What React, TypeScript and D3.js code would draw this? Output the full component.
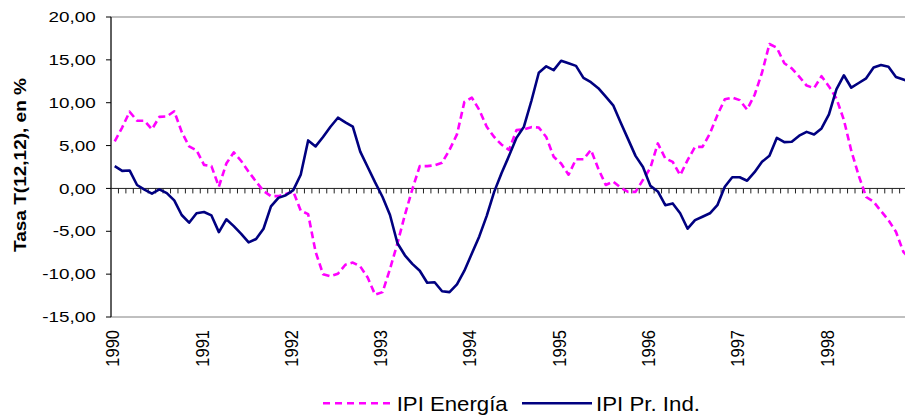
import React, { useEffect, useRef } from 'react';
import * as d3 from 'd3';

// monthly series, Jan 1990 .. Dec 1998
const years = ['1990', '1991', '1992', '1993', '1994', '1995', '1996', '1997', '1998'];
const months = years.flatMap((y) => d3.range(1, 13).map((m) => y + '-' + m));

const energia = [
  5.5, 7.1, 8.95, 7.9, 7.9, 6.9, 8.35, 8.4, 9.0, 6.6, 4.9, 4.45,
  2.75, 2.6, 0.2, 2.9, 4.2, 3.2, 1.95, 0.8, -0.3, -0.9, -0.9, -0.65,
  -0.35, -2.6, -3.0, -7.4, -10.0, -10.25, -9.95, -8.9, -8.65, -9.1, -10.4, -12.4,
  -12.1, -9.4, -6.4, -3.1, -0.1, 2.6, 2.6, 2.7, 3.0, 4.5, 6.3, 10.1,
  10.6, 9.15, 7.2, 6.0, 5.1, 4.5, 6.8, 6.9, 7.15, 7.1, 6.0, 3.7,
  2.9, 1.6, 3.4, 3.4, 4.5, 2.3, 0.4, 0.8, 0.1, -0.4, -0.4, 1.0,
  2.4, 5.25, 3.5, 3.1, 1.55, 3.3, 4.85, 4.85, 6.4, 8.55, 10.4, 10.6,
  10.3, 9.2, 10.9, 13.5, 16.85, 16.4, 14.6, 14.0, 13.05, 12.0, 11.7, 13.1,
  11.9, 10.5, 8.0, 4.4, 1.5, -1.0, -1.55, -2.65, -3.7, -5.05, -7.4, -8.3,
];

const prInd = [
  2.6, 2.05, 2.1, 0.4, -0.15, -0.6, -0.1, -0.55, -1.4, -3.1, -4.0, -2.9,
  -2.75, -3.15, -5.1, -3.6, -4.4, -5.3, -6.3, -5.9, -4.7, -2.1, -1.1, -0.8,
  -0.2, 1.6, 5.6, 4.9, 6.0, 7.2, 8.25, 7.7, 7.2, 4.3, 2.5, 0.7,
  -1.0, -3.1, -6.4, -7.8, -8.8, -9.6, -11.0, -10.95, -12.0, -12.1, -11.2, -9.6,
  -7.6, -5.6, -3.2, -0.4, 1.8, 3.8, 5.9, 7.2, 10.2, 13.5, 14.25, 13.8,
  14.9, 14.6, 14.3, 12.9, 12.4, 11.7, 10.7, 9.7, 7.7, 5.75, 3.8, 2.5,
  0.3, -0.35, -1.95, -1.75, -2.9, -4.7, -3.7, -3.3, -2.9, -1.95, 0.2, 1.3,
  1.3, 0.9, 1.9, 3.1, 3.8, 5.9, 5.4, 5.45, 6.15, 6.6, 6.3, 7.0,
  8.65, 11.55, 13.2, 11.75, 12.3, 12.85, 14.1, 14.4, 14.2, 13.0, 12.7, 12.4,
];

const yTicks = [-15, -10, -5, 0, 5, 10, 15, 20];

const FONT = '"Liberation Sans", Arial, sans-serif';

export default function App() {
  const ref = useRef<SVGSVGElement>(null);

  useEffect(() => {
    const svg = d3.select(ref.current);
    svg.selectAll('*').remove();

    const left = 111, top = 17, bottom = 317;
    const right = left + 108 * 7.44; // plot runs past the picture's right edge

    const x = d3.scaleBand<string>().domain(months).range([left, right]).padding(0);
    const y = d3.scaleLinear().domain([-15, 20]).range([bottom, top]);
    const cx = (i: number) => (x(months[i]) as number) + x.bandwidth() / 2;

    const loc = d3.formatLocale({ decimal: ',', thousands: '.', grouping: [3], currency: ['', ''], minus: '-' });
    const fmt = loc.format('.2f');

    // plot frame
    svg.append('rect')
      .attr('x', left).attr('y', top)
      .attr('width', right - left).attr('height', bottom - top)
      .attr('fill', 'none').attr('stroke', '#808080').attr('stroke-width', 1);

    // y axis
    svg.append('line')
      .attr('x1', left).attr('x2', left).attr('y1', top).attr('y2', bottom)
      .attr('stroke', '#000');
    svg.selectAll('.ytick').data(yTicks).enter().append('line')
      .attr('x1', left - 5).attr('x2', left)
      .attr('y1', (d) => y(d)).attr('y2', (d) => y(d))
      .attr('stroke', '#000');
    svg.selectAll('.ylab').data(yTicks).enter().append('text')
      .attr('transform', (d) => 'translate(95.7,' + (y(d) + 5.2) + ') scale(1.3,1)')
      .attr('text-anchor', 'end')
      .style('font-family', FONT).style('font-size', '14.5px').attr('fill', '#000')
      .text((d) => fmt(d));

    svg.append('text')
      .attr('transform', 'translate(26,165) rotate(-90)')
      .attr('text-anchor', 'middle')
      .attr('textLength', 174).attr('lengthAdjust', 'spacingAndGlyphs')
      .style('font-family', FONT).style('font-size', '16.5px').style('font-weight', 'bold')
      .text('Tasa T(12,12), en %');

    // category axis at zero
    const y0 = y(0);
    svg.append('line')
      .attr('x1', left).attr('x2', right).attr('y1', y0).attr('y2', y0)
      .attr('stroke', '#222');
    svg.selectAll('.xtick').data(months.slice(1)).enter().append('line')
      .attr('x1', (d) => x(d) as number).attr('x2', (d) => x(d) as number)
      .attr('y1', y0).attr('y2', y0 + 5)
      .attr('stroke', '#222');

    svg.selectAll('.xlab').data(years).enter().append('text')
      .attr('transform', (d, i) => 'translate(' + (cx(i * 12) + 4.6) + ',330) rotate(-90)')
      .attr('text-anchor', 'end')
      .attr('textLength', 36.7).attr('lengthAdjust', 'spacingAndGlyphs')
      .style('font-family', FONT).style('font-size', '17.5px')
      .text((d) => d);

    const line = d3.line<number>().x((d, i) => cx(i)).y((d) => y(d));

    svg.append('path').datum(energia)
      .attr('d', line)
      .attr('fill', 'none').attr('stroke', '#FF00FF').attr('stroke-width', 2.6)
      .attr('stroke-dasharray', '7,4').attr('stroke-linejoin', 'round');

    svg.append('path').datum(prInd)
      .attr('d', line)
      .attr('fill', 'none').attr('stroke', '#000080').attr('stroke-width', 2.6)
      .attr('stroke-linejoin', 'round');

    // legend
    const legend = svg.append('g');
    legend.append('line')
      .attr('x1', 323).attr('x2', 392).attr('y1', 403.3).attr('y2', 403.3)
      .attr('stroke', '#FF00FF').attr('stroke-width', 2.6).attr('stroke-dasharray', '7,5');
    legend.append('text')
      .attr('x', 396.7).attr('y', 411)
      .attr('textLength', 111).attr('lengthAdjust', 'spacingAndGlyphs')
      .style('font-family', FONT).style('font-size', '20px')
      .text('IPI Energía');
    legend.append('line')
      .attr('x1', 522).attr('x2', 592).attr('y1', 403.3).attr('y2', 403.3)
      .attr('stroke', '#000080').attr('stroke-width', 2.6);
    legend.append('text')
      .attr('x', 596).attr('y', 411)
      .attr('textLength', 104).attr('lengthAdjust', 'spacingAndGlyphs')
      .style('font-family', FONT).style('font-size', '20px')
      .text('IPI Pr. Ind.');
  }, []);

  return (
    <svg
      ref={ref}
      width={905}
      height={418}
      style={{ position: 'absolute', left: 0, top: 0, background: '#fff', overflow: 'hidden' }}
    />
  );
}
